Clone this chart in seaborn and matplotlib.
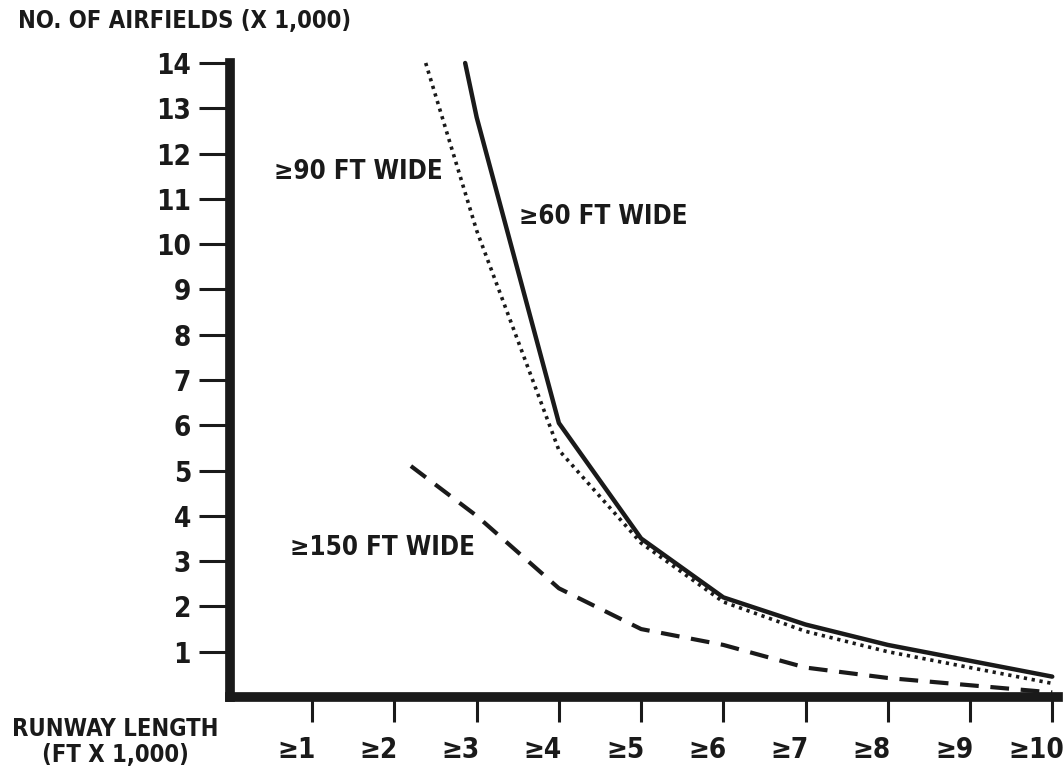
import matplotlib
matplotlib.use("Agg")
import matplotlib.pyplot as plt
import matplotlib.transforms as mtransforms
import seaborn as sns
import pandas as pd

# Data (runway length category index, airfields x 1,000)
x60 = [2.86, 3, 4, 5, 6, 7, 8, 9, 10]
y60 = [14.0, 12.8, 6.05, 3.5, 2.2, 1.6, 1.15, 0.8, 0.45]
x90 = [2.38, 3, 4, 5, 6, 7, 8, 9, 10]
y90 = [14.0, 10.3, 5.45, 3.4, 2.1, 1.45, 1.0, 0.65, 0.3]
x150 = [2.2, 3, 4, 5, 6, 7, 8, 9, 10]
y150 = [5.1, 4.0, 2.4, 1.5, 1.15, 0.65, 0.42, 0.26, 0.1]

x_ticks = list(range(1, 11))
x_ticklabels = ["≥1", "≥2", "≥3", "≥4", "≥5", "≥6", "≥7", "≥8", "≥9", "≥10"]
y_ticks = list(range(1, 15))
y_ticklabels = [str(v) for v in y_ticks]

sns.set_theme(style="white")
plt.rcParams['font.family'] = ['DejaVu Sans']
plt.rcParams['font.stretch'] = 'condensed'
plt.rcParams['font.weight'] = 'bold'

fig = plt.figure(figsize=(10.64, 7.75), dpi=100)
ax = fig.add_axes([230/1064, 78/775, (1058-230)/1064, (697-63)/775])

df60 = pd.DataFrame({"x": x60, "y": y60})
df90 = pd.DataFrame({"x": x90, "y": y90})
df150 = pd.DataFrame({"x": x150, "y": y150})

sns.lineplot(data=df60, x="x", y="y", ax=ax, color="#1a1a1a", lw=3.2, sort=False, clip_on=False)
sns.lineplot(data=df90, x="x", y="y", ax=ax, color="#1a1a1a", lw=2.6, sort=False,
             linestyle=(0, (0.9, 1.3)), clip_on=False)
sns.lineplot(data=df150, x="x", y="y", ax=ax, color="#1a1a1a", lw=3.0, sort=False,
             linestyle=(0, (4.5, 2.8)), clip_on=False)

ax.set_xlim(0.0, 10.07)
ax.set_ylim(0, 14)
ax.set_xticks(x_ticks)
ax.set_xticklabels(x_ticklabels)
ax.set_yticks(y_ticks)
ax.set_yticklabels(y_ticklabels)
ax.set_xlabel("")
ax.set_ylabel("")

for s in ["top", "right"]:
    ax.spines[s].set_visible(False)
for s in ["left", "bottom"]:
    ax.spines[s].set_linewidth(7)
    ax.spines[s].set_color("#1a1a1a")
    ax.spines[s].set_capstyle("projecting")

ax.tick_params(axis="y", direction="out", length=22, width=2.2, color="#1a1a1a",
               labelsize=20, pad=6, left=True)
ax.tick_params(axis="x", direction="out", length=18, width=2.2, color="#1a1a1a",
               labelsize=20, pad=10, bottom=True)
shift = mtransforms.ScaledTranslation(-16/100, 0, fig.dpi_scale_trans)
for lab in ax.get_xticklabels():
    lab.set_transform(lab.get_transform() + shift)
for lab in ax.get_xticklabels() + ax.get_yticklabels():
    lab.set_fontweight("bold")
    lab.set_fontstretch("condensed")
    lab.set_color("#1a1a1a")

txt_kw = dict(fontsize=18.5, fontweight="bold", fontstretch="condensed",
              color="#1a1a1a", va="center", ha="left")
ax.text(0.54, 11.6, "≥90 FT WIDE", **txt_kw)
ax.text(3.52, 10.6, "≥60 FT WIDE", **txt_kw)
ax.text(0.73, 3.3, "≥150 FT WIDE", **txt_kw)

fig.text(18/1064, 1 - 21/775, "NO. OF AIRFIELDS (X 1,000)", fontsize=17, fontweight="bold",
         fontstretch="condensed", color="#1a1a1a", ha="left", va="center")
fig.text(115/1064, 1 - 742/775, "RUNWAY LENGTH\n(FT X 1,000)", fontsize=17, fontweight="bold",
         fontstretch="condensed", color="#1a1a1a", ha="center", va="center", linespacing=1.15)

fig.savefig("out.png", dpi=100, facecolor="white")
